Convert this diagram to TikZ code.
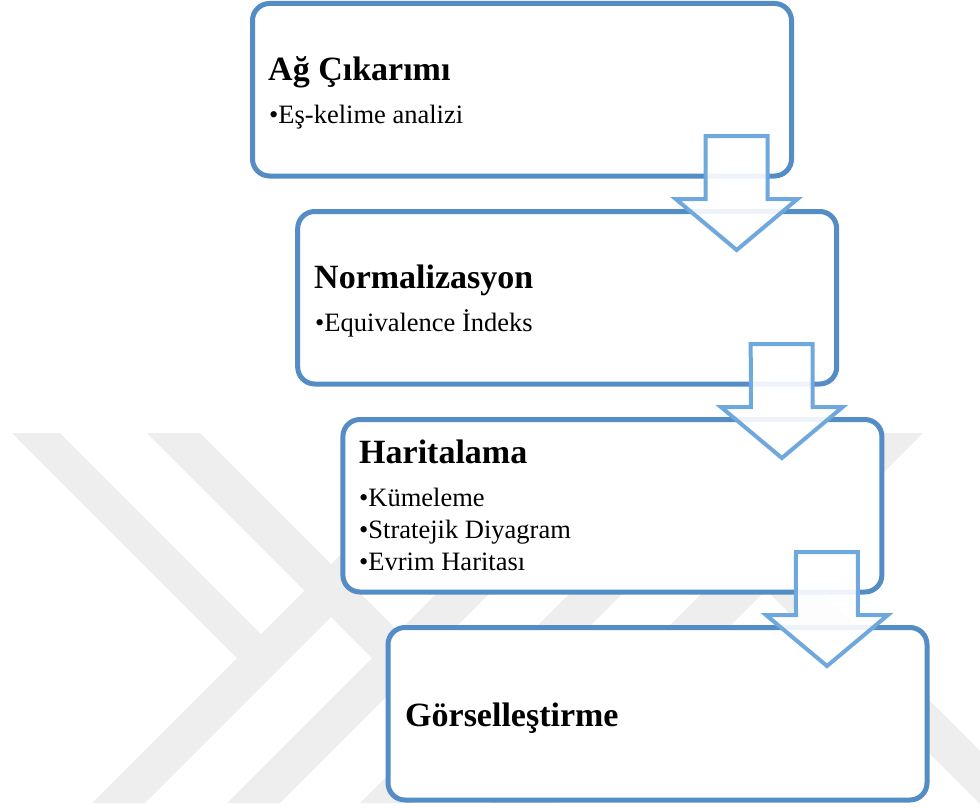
\documentclass[tikz,border=0pt]{standalone}
\usepackage{fontspec}
\setmainfont{Liberation Serif}
\usetikzlibrary{calc}
\definecolor{boxblue}{RGB}{84,141,198}
\definecolor{arrblue}{RGB}{111,168,220}
\definecolor{wm}{RGB}{238,238,238}
\begin{document}
\begin{tikzpicture}[x=1pt,y=-1pt,
  stepbox/.style={draw=boxblue, line width=5pt, fill=white, rounded corners=17pt,
    minimum width=539pt, minimum height=172.5pt, anchor=north west,
    inner sep=0pt, outer sep=0pt},
  arr/.style={draw=arrblue, line width=4pt, fill=white, fill opacity=0.9},
  ttl/.style={anchor=base west, inner sep=0pt, font=\fontsize{34}{40}\selectfont\bfseries},
  itm/.style={anchor=base west, inner sep=0pt, font=\fontsize{26.5}{32}\selectfont},
  wmk/.style={fill=wm}]
\useasboundingbox (0,0) rectangle (980,808);
% watermark
\begin{scope}
\clip (0,433) rectangle (980,803);
\fill[wmk] (12,433) -- (60,433) -- (287.5,660.5) -- (237,658) -- cycle;
\fill[wmk] (92,803) -- (145,803) -- (515,433) -- (462,433) -- cycle;
\fill[wmk] (147,433) -- (200,433) -- (425,658) -- (372,658) -- cycle;
\fill[wmk] (227,803) -- (280,803) -- (650,433) -- (597,433) -- cycle;
\fill[wmk] (360,803) -- (413,803) -- (783,433) -- (730,433) -- cycle;
\fill[wmk] (492,803) -- (553,803) -- (923,433) -- (862,433) -- cycle;
\fill[wmk] (736,560) -- (789,560) -- (1032,803) -- (979,803) -- cycle;
\end{scope}
% boxes
\node[stepbox] (b1) at (252.5,3.5) {};
\node[stepbox] (b2) at (297.7,211.5) {};
\node[stepbox] (b3) at (342.9,419.5) {};
\node[stepbox] (b4) at (388,627.5) {};
% texts
\node[ttl] (t1) at (268,81) {Ağ Çıkarımı};
\node[itm] (i11) at (269,123) {•Eş-kelime analizi};
\node[ttl] (t2) at (314,288) {Normalizasyon};
\node[itm] (i21) at (315,331) {•Equivalence İndeks};
\node[ttl] (t3) at (359,463) {Haritalama};
\node[itm] (i31) at (359,506) {•Kümeleme};
\node[itm] (i32) at (359,538) {•Stratejik Diyagram};
\node[itm] (i33) at (359,570) {•Evrim Haritası};
\node[ttl] (t4) at (405,726) {Görselleştirme};
% arrows
\draw[arr] ($(b1.south east)+(-86,-40)$) -- ++(62,0) -- ++(0,63) -- ++(30,0)
  -- ($(b2.north east)+(-100,38.5)$) -- ++(-61,-51) -- ++(30,0) -- cycle;
\draw[arr] ($(b2.south east)+(-86,-40)$) -- ++(62,0) -- ++(0,63) -- ++(30,0)
  -- ($(b3.north east)+(-100,38.5)$) -- ++(-61,-51) -- ++(30,0) -- cycle;
\draw[arr] ($(b3.south east)+(-86,-40)$) -- ++(62,0) -- ++(0,63) -- ++(30,0)
  -- ($(b4.north east)+(-100,38.5)$) -- ++(-61,-51) -- ++(30,0) -- cycle;
\end{tikzpicture}
\end{document}
